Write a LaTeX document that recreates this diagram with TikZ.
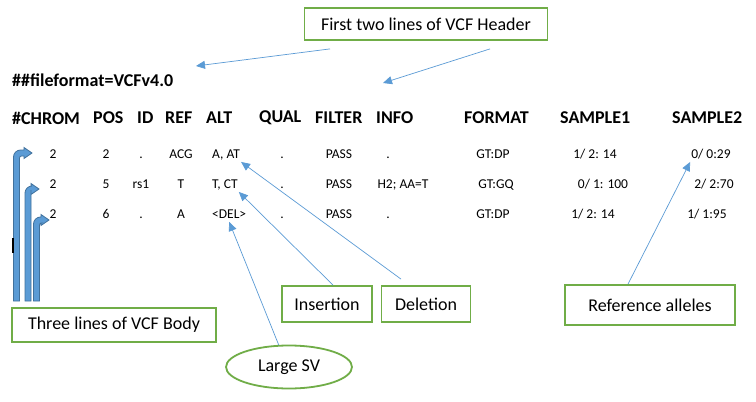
\documentclass[tikz,border=0pt]{standalone}
\usepackage{fontspec}
\setmainfont{Carlito}
\usepackage{tikz}
\usetikzlibrary{shapes,arrows.meta}

\definecolor{boxgreen}{HTML}{70AD47}
\definecolor{arrblue}{HTML}{5B9BD5}
\definecolor{arrdark}{HTML}{41719C}

\tikzset{
  callout/.style={draw=boxgreen,line width=1.8pt,rectangle,font=\fontsize{18}{21}\selectfont},
  pointer/.style={draw=arrblue,line width=0.7pt,-{Triangle[length=9pt,width=8pt]}},
  cell/.style={inner sep=1pt,text height=9pt,text depth=2.5pt,font=\fontsize{13.5}{16}\selectfont},
  headcell/.style={anchor=west,inner sep=0pt,font=\bfseries\fontsize{18}{21}\selectfont},
  bentarr/.style={fill=arrblue,draw=arrdark,line width=0.8pt}
}

\begin{document}
\begin{tikzpicture}[x=1pt,y=-1pt]
    \useasboundingbox (0,0) rectangle (756,402);
    \fill[white] (0,0) rectangle (756,402);

    % header lines
    \node [headcell] (ff) at (12,80) {\#\#fileformat=VCFv4.0};
    \foreach \hx/\hname/\htext in {12/chrom/\#CHROM,93/pos/POS,137/id/ID,165/ref/REF,206/alt/ALT,
      259/qual/QUAL,315/filter/FILTER,376/info/INFO,464/format/FORMAT,560/sone/SAMPLE1,672/stwo/SAMPLE2}
    {
      \node [headcell] (h\hname) at (\hx,118) {\htext};
    }

    % body lines
    \foreach \r/\yy/\vpos/\vid/\vref/\valt/\ix/\vinfo/\fx/\vfmt/\ax/\sone/\bx/\stwo in
      {1/155/2/./ACG/{A, AT}/388/./493/GT:DP/595/{1/ 2: 14}/711/{0/ 0:29},
       2/185/5/rs1/T/{T, CT}/403/{H2; AA=T}/496/GT:GQ/603/{0/ 1: 100}/714/{2/ 2:70},
       3/215/6/./A/{<DEL>}/388/./493/GT:DP/593/{1/ 2: 14}/707/{1/ 1:95}}
    {
      \node [cell] (chr\r) at (53,\yy) {2};
      \node [cell] (pos\r) at (106,\yy) {\vpos};
      \node [cell] (id\r) at (141,\yy) {\vid};
      \node [cell] (ref\r) at (181,\yy) {\vref};
      \node [cell,anchor=west] (alt\r) at (211,\yy) {\valt};
      \node [cell] (qual\r) at (282,\yy) {.};
      \node [cell] (filt\r) at (339,\yy) {PASS};
      \node [cell] (info\r) at (\ix,\yy) {\vinfo};
      \node [cell] (fmt\r) at (\fx,\yy) {\vfmt};
      \node [cell] (sa\r) at (\ax,\yy) {\sone};
      \node [cell] (sb\r) at (\bx,\yy) {\stwo};
    }

    % bent arrows for the body lines
    \foreach \bx/\by/\bt in {16.5/153/32,28/189/39,36.5/220/49}
    {
      \filldraw [bentarr] (\bx-3,301) [rounded corners=7pt] -- (\bx-3,\by-3) [sharp corners]
        -- (\bt-8,\by-3) -- (\bt-8,\by-5.5) -- (\bt,\by) -- (\bt-8,\by+5.5) -- (\bt-8,\by+3)
        [rounded corners=2pt] -- (\bx+3,\by+3) [sharp corners] -- (\bx+3,301) -- cycle;
    }
    \draw [line width=1.5pt] (13,238) -- (13,253);

    % callouts
    \node [callout,minimum width=243pt,minimum height=32pt] (hdr) at (426,24) {First two lines of VCF Header};
    \node [callout,minimum width=204pt,minimum height=34pt] (body) at (114,325) {Three lines of VCF Body};
    \node [callout,minimum width=90pt,minimum height=36pt] (ins) at (327,304) {Insertion};
    \node [callout,minimum width=89pt,minimum height=36pt] (del) at (426,304) {Deletion};
    \node [callout,minimum width=170pt,minimum height=40pt] (refal) at (650,305) {Reference alleles};
    \node [callout,ellipse,minimum width=126pt,minimum height=43pt] (sv) at (289,367) {Large SV};

    \coordinate (hdrtipa) at (196,66);
    \coordinate (hdrtipb) at (383,83);

    \draw [pointer] ([xshift=-96pt,yshift=-8pt]hdr.south) -- (hdrtipa);
    \draw [pointer] ([xshift=64pt,yshift=-8pt]hdr.south) -- (hdrtipb);
    \draw [pointer] ([xshift=6pt]ins.north) -- (alt2.south east);
    \draw [pointer] ([xshift=-25pt,yshift=6pt]del.north) -- (alt1.south east);
    \draw [pointer] (sv.115) -- (alt3.south);
    \draw [pointer] ([xshift=-22pt]refal.north) -- (sb1.south west);
  \end{tikzpicture}
\end{document}
